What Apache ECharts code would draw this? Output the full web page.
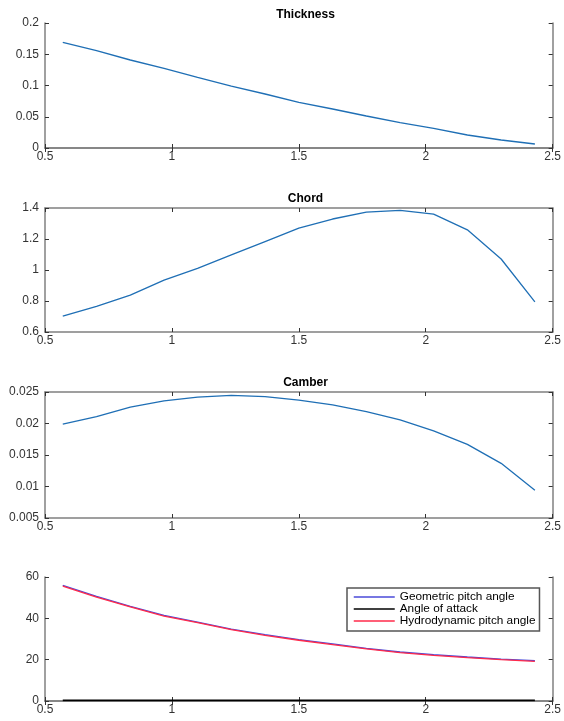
<!DOCTYPE html>
<html>
<head>
<meta charset="utf-8">
<script src="https://cdn.jsdelivr.net/npm/echarts@6/dist/echarts.min.js"></script>
<style>
  html, body { margin: 0; padding: 0; background: #fff; }
  #chart { width: 564px; height: 721px; }
</style>
</head>
<body>
<div id="chart"></div>
<script>
// Radial stations (r/R) shared by all blade-section plots
const radius = [0.570, 0.703, 0.836, 0.969, 1.101, 1.234, 1.367, 1.500, 1.633, 1.766, 1.899, 2.031, 2.164, 2.297, 2.430];

// Section properties along the blade
const thickness = [0.169, 0.1557, 0.1408, 0.1275, 0.113, 0.099, 0.0864, 0.073, 0.0624, 0.0512, 0.0405, 0.0315, 0.0208, 0.0128, 0.0064];
const chord = [0.702, 0.766, 0.838, 0.935, 1.011, 1.097, 1.183, 1.270, 1.329, 1.374, 1.385, 1.361, 1.259, 1.071, 0.794];
const camber = [0.0199, 0.0211, 0.0226, 0.0236, 0.0242, 0.02446, 0.02425, 0.02372, 0.02297, 0.0219, 0.02058, 0.01883, 0.01668, 0.01368, 0.00942];

// Angles (degrees)
const geometricPitch = [55.9, 50.6, 45.8, 41.4, 38.2, 34.8, 32.1, 29.7, 27.6, 25.5, 23.7, 22.4, 21.3, 20.3, 19.5];
const angleOfAttack = [0.3, 0.3, 0.3, 0.3, 0.3, 0.3, 0.3, 0.3, 0.3, 0.3, 0.3, 0.3, 0.3, 0.3, 0.3];
const hydroPitch = [55.6, 50.3, 45.5, 41.1, 37.9, 34.5, 31.8, 29.4, 27.3, 25.2, 23.4, 22.1, 21.0, 20.0, 19.2];

// Axis settings per panel
const panelTitles = ['Thickness', 'Chord', 'Camber', ''];
const yRanges = [
  { min: 0, max: 0.2, interval: 0.05 },
  { min: 0.6, max: 1.4, interval: 0.2 },
  { min: 0.005, max: 0.025, interval: 0.005 },
  { min: 0, max: 60, interval: 20 }
];
const xRange = { min: 0.5, max: 2.5, interval: 0.5 };
const legendNames = ['Geometric pitch angle', 'Angle of attack', 'Hydrodynamic pitch angle'];

const FONT = 'Liberation Sans, Arial, sans-serif';
const gridTops = [23, 208, 392, 577];
const gridHeights = [125, 124, 126, 124];
const titleTops = [4, 188, 372];

const pair = (ys) => radius.map((x, i) => [x, ys[i]]);

const axisLine = { show: true, lineStyle: { color: '#808080', width: 1.5 } };
const axisTick = { show: true, inside: true, length: 4, lineStyle: { color: '#333', width: 1 } };
const labelStyle = { color: '#333', fontSize: 12, fontFamily: FONT };

const grids = [], xAxes = [], yAxes = [], titles = [], series = [];

for (let p = 0; p < 4; p++) {
  grids.push({ left: 45, right: 8, top: gridTops[p], height: gridHeights[p], containLabel: false });
  // bottom and top x axes
  xAxes.push({ type: 'value', gridIndex: p, position: 'bottom', ...xRange,
    axisLine, axisTick, splitLine: { show: false },
    axisLabel: { ...labelStyle, margin: 3 } });
  xAxes.push({ type: 'value', gridIndex: p, position: 'top', ...xRange,
    axisLine, axisTick, splitLine: { show: false }, axisLabel: { show: false } });
  // left and right y axes
  yAxes.push({ type: 'value', gridIndex: p, position: 'left', ...yRanges[p],
    axisLine, axisTick, splitLine: { show: false },
    axisLabel: { ...labelStyle, margin: 6 } });
  yAxes.push({ type: 'value', gridIndex: p, position: 'right', ...yRanges[p],
    axisLine, axisTick, splitLine: { show: false }, axisLabel: { show: false } });
  if (panelTitles[p]) {
    titles.push({ text: panelTitles[p], left: 300.5, textAlign: 'center', top: titleTops[p],
      textStyle: { fontSize: 12, fontWeight: 'bold', color: '#000', fontFamily: FONT } });
  }
}

const blueLine = { color: '#1f6fb5', width: 1.3 };
[thickness, chord, camber].forEach((ys, p) => {
  series.push({ type: 'line', xAxisIndex: 2 * p, yAxisIndex: 2 * p, data: pair(ys),
    symbol: 'none', lineStyle: blueLine, silent: true, animation: false });
});

const angleSeries = [geometricPitch, angleOfAttack, hydroPitch];
const angleColors = ['#4a4ad8', '#000000', '#ff2a4a'];
angleSeries.forEach((ys, k) => {
  series.push({ type: 'line', name: legendNames[k], xAxisIndex: 6, yAxisIndex: 6, data: pair(ys),
    symbol: 'none', color: angleColors[k],
    lineStyle: { color: angleColors[k], width: k === 1 ? 1.6 : 1.3 }, silent: true, animation: false });
});

const chart = echarts.init(document.getElementById('chart'), null, { renderer: 'canvas' });
chart.setOption({
  backgroundColor: '#fff',
  animation: false,
  title: titles,
  grid: grids,
  xAxis: xAxes,
  yAxis: yAxes,
  legend: {
    data: legendNames,
    orient: 'vertical',
    left: 347, top: 588,
    itemWidth: 41, itemHeight: 11, itemGap: 0,
    padding: [3, 4, 4, 6],
    borderColor: '#555', borderWidth: 1.5, backgroundColor: '#fff',
    itemStyle: { opacity: 0 },
    lineStyle: { width: 1.5 },
    textStyle: { fontSize: 11.8, color: '#000', fontFamily: FONT, lineHeight: 11 },
    selectedMode: false
  },
  series
});
</script>
</body>
</html>
